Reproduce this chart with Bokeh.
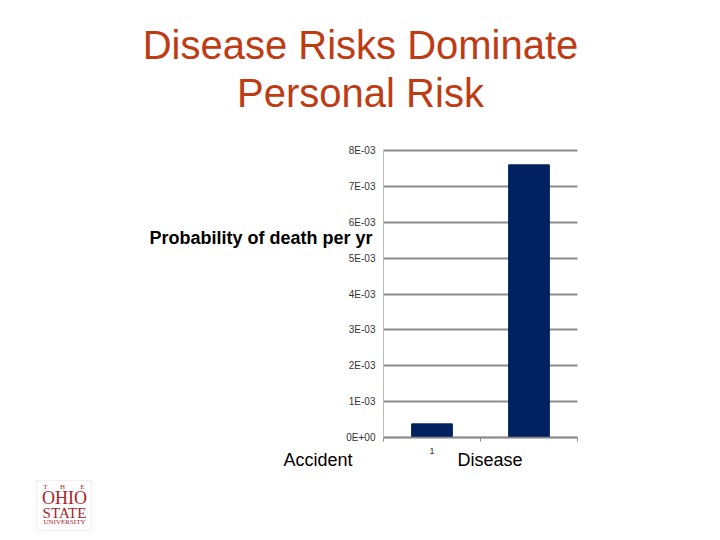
from bokeh.plotting import figure
from bokeh.models import (Range1d, FixedTicker, CustomJSTickFormatter, Label, LinearAxis,
                          Grid, BoxAnnotation)
from bokeh.embed import file_html
from bokeh.resources import INLINE

# ---- data ----
categories = ["Accident", "Disease"]
death_prob = [0.00038, 0.0076]
x_tick_labels = ["1"]
y_ticks = [0, 0.001, 0.002, 0.003, 0.004, 0.005, 0.006, 0.007, 0.008]
title_lines = ["Disease Risks Dominate", "Personal Risk"]

TITLE_COLOR = "#BE3C14"
BAR_COLOR = "#022161"
GRID_COLOR = "#8c8c8c"
FONT = "Liberation Sans"
W, H = 712, 532

# chart frame geometry (canvas pixels) — the whole canvas is the plot frame
CH_LEFT, CH_RIGHT, CH_TOP, CH_BOTTOM = 383, 577, 150, 437
n = len(categories)
ppx = (CH_RIGHT - CH_LEFT) / n                 # pixels per x unit
ppy = (CH_BOTTOM - CH_TOP) / y_ticks[-1]       # pixels per y unit

xs = [i + 0.5 for i in range(n)]

p = figure(width=W, height=H, output_backend="svg", toolbar_location=None,
           x_range=Range1d(-CH_LEFT / ppx, (W - CH_LEFT) / ppx),
           y_range=Range1d(-(H - CH_BOTTOM) / ppy, CH_BOTTOM / ppy),
           x_axis_type=None, y_axis_type=None, min_border=0, title=None)
p.outline_line_color = None
p.background_fill_color = "white"
p.border_fill_color = "white"
p.xgrid.visible = False
p.ygrid.visible = False


def X(px):
    return (px - CH_LEFT) / ppx


def Y(py):
    return (CH_BOTTOM - py) / ppy


# gridlines
p.add_layout(Grid(dimension=1, ticker=FixedTicker(ticks=y_ticks), bounds=(0, y_ticks[-1]),
                  cross_bounds=(0, n), grid_line_color=GRID_COLOR, grid_line_width=2))

p.vbar(x=xs, top=death_prob, width=0.42, fill_color=BAR_COLOR, line_color=BAR_COLOR)

# y axis
yaxis = LinearAxis(fixed_location=0, bounds=(0, y_ticks[-1]), ticker=FixedTicker(ticks=y_ticks))
yaxis.formatter = CustomJSTickFormatter(code="""
    var s = tick.toExponential(0).toUpperCase();
    return s.replace(/E([+-])(\\d)$/, 'E$10$2');
""")
yaxis.major_label_text_font = FONT
yaxis.major_label_text_font_size = "10px"
yaxis.major_label_text_color = "#333333"
yaxis.major_tick_out = 0
yaxis.major_tick_in = 0
yaxis.minor_tick_out = 0
yaxis.minor_tick_in = 0
yaxis.axis_line_color = "#bbbbbb"
yaxis.major_label_standoff = 8
p.add_layout(yaxis, "left")

# x axis
xaxis = LinearAxis(fixed_location=0, bounds=(0, n),
                   ticker=FixedTicker(ticks=xs[:1], minor_ticks=list(range(n + 1))))
xaxis.major_label_overrides = {xs[0]: x_tick_labels[0]}
xaxis.major_label_text_font = FONT
xaxis.major_label_text_font_size = "9px"
xaxis.major_label_text_color = "#333333"
xaxis.major_tick_out = 0
xaxis.major_tick_in = 0
xaxis.minor_tick_out = 4
xaxis.minor_tick_in = 0
xaxis.minor_tick_line_color = GRID_COLOR
xaxis.axis_line_color = GRID_COLOR
xaxis.axis_line_width = 1.5
xaxis.major_label_standoff = 6
p.add_layout(xaxis, "below")


def add_text(px, py, text, align, size, color="#000000", font=FONT, style="normal"):
    # py is the wanted baseline; compensate for the renderer's baseline placement
    py_adj = py - 0.37 * size
    p.add_layout(Label(x=X(px), y=Y(py_adj), text=text,
                       text_align=align, text_baseline="alphabetic", text_font=font,
                       text_font_size=f"{size}px", text_font_style=style, text_color=color))


# title
add_text(360, 59, title_lines[0], "center", 40, TITLE_COLOR)
add_text(360, 107, title_lines[1], "center", 40, TITLE_COLOR)

# axis title
add_text(372, 244, "Probability of death per yr", "right", 18, style="bold")

# category labels
add_text(352, 466, categories[0], "right", 18)
add_text(457, 466, categories[1], "left", 18)

# logo
LOGO = "#A8232B"
SERIF = "Liberation Serif"
p.add_layout(BoxAnnotation(left=X(36), right=X(91), top=Y(480), bottom=Y(530),
                           fill_color=None, line_color="#e8c4c8", line_width=1))
for letter, lx in zip(["T", "H", "E"], [45, 62, 82]):
    add_text(lx, 489, letter, "center", 7, LOGO, SERIF)
add_text(64, 504, "OHIO", "center", 18, LOGO, SERIF)
add_text(64, 518, "STATE", "center", 15, LOGO, SERIF)
add_text(64, 524, "UNIVERSITY", "center", 7, LOGO, SERIF)

open("out.html", "w").write(file_html(p, INLINE))
